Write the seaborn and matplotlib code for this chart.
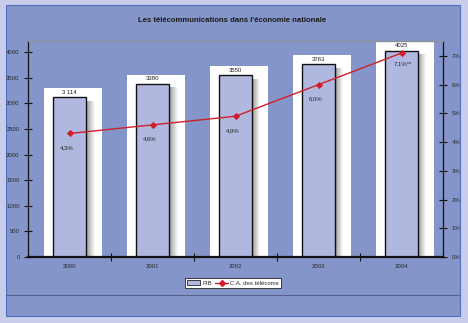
import numpy as np
import pandas as pd
import matplotlib
matplotlib.use("Agg")
import matplotlib.pyplot as plt
from matplotlib.patches import Rectangle
from matplotlib.lines import Line2D
import seaborn as sns

# Data
years = ["2000", "2001", "2002", "2003", "2004"]
pib = [3114, 3380, 3550, 3763, 4025]
pib_labels = ["3 114", "3380", "3550", "3763", "4025"]
ca_telecom = [4.3, 4.6, 4.9, 6.0, 7.1]
ca_labels = ["4,3%", "4,6%", "4,9%", "6,0%", "7,1%**"]
left_ticks = [0, 500, 1000, 1500, 2000, 2500, 3000, 3500, 4000]
right_ticks = [0, 1, 2, 3, 4, 5, 6, 7]
title = "Les télécommunications dans l'économie nationale"

sns.set_theme(style="white")
plt.rcParams["font.family"] = ["Liberation Sans", "DejaVu Sans"]

W, H = 468, 323
fig = plt.figure(figsize=(W / 100, H / 100), dpi=100)
fig.patch.set_facecolor("#c9cde9")

panel_col = "#8495c9"
# outer panel behind everything
fig.patches.append(Rectangle((6 / W, 1 - 316 / H), 454 / W, 311 / H,
                             transform=fig.transFigure, facecolor=panel_col,
                             edgecolor="#4f6fc4", linewidth=0.8, zorder=-10))
fig.add_artist(Line2D([6 / W, 460 / W], [1 - 295 / H, 1 - 295 / H],
                      transform=fig.transFigure, color="#556090", linewidth=0.8, zorder=-5))

ax = fig.add_axes([28 / W, 1 - 257 / H, 415 / W, 216 / H])
ax.set_facecolor("none")

df = pd.DataFrame({"annee": years, "pib": pib})

# white backing boxes with a soft shadow to the right of each bar
px_x = 1 / 83.0
px_y = 4000 / 205.0
for i, v in enumerate(pib):
    left = i - 0.2 - 9 * px_x
    right = i + 0.2 + 16 * px_x
    top = v + 9 * px_y
    ax.add_patch(Rectangle((left, 0), right - left, top, facecolor="white",
                           edgecolor="none", zorder=0.5))
    grad = np.linspace(0.6, 1.0, 50).reshape(1, -1)
    ax.imshow(np.dstack([grad, grad, grad]), extent=(i + 0.2, i + 0.2 + 8 * px_x, 0, v - 4 * px_y),
              aspect="auto", zorder=0.6, interpolation="bilinear")

sns.barplot(data=df, x="annee", y="pib", width=0.4, color="#b1b8df",
            edgecolor="#111111", linewidth=1.0, saturation=1, ax=ax, zorder=2)

ax.set_xlim(-0.5, 4.5)
ax.set_ylim(0, 4215)
ax.set_xlabel("")
ax.set_ylabel("")
ax.set_yticks(left_ticks)
ax.set_yticklabels([str(t) for t in left_ticks], fontsize=4.3, color="#2a2a2a")
ax.set_xticks(range(len(years)))
ax.set_xticklabels(years, fontsize=4.3, color="#2a2a2a")
ax.set_xticks(np.arange(0.5, 4.5, 1), minor=True)
ax.tick_params(axis="x", which="major", length=0, pad=5)
ax.tick_params(axis="x", which="minor", length=6, direction="inout", width=0.8, color="#111111", bottom=True)
ax.tick_params(axis="y", which="major", length=6, direction="inout", width=0.8, color="#111111", pad=3, left=True)

for s in ["left", "right"]:
    ax.spines[s].set_color("#111111")
    ax.spines[s].set_linewidth(0.9)
ax.spines["bottom"].set_color("#111111")
ax.spines["bottom"].set_linewidth(1.6)
ax.spines["top"].set_color("#8a8f99")
ax.spines["top"].set_linewidth(1.0)

for i, (v, lab) in enumerate(zip(pib, pib_labels)):
    ax.text(i, v + 45, lab, ha="center", va="bottom", fontsize=4.3, color="#222222")

ax2 = ax.twinx()
ax2.set_ylim(0, 7.52)
sns.lineplot(x=list(range(len(years))), y=ca_telecom, color="#d01f2a", linewidth=1.0,
             marker="D", markersize=3, markeredgecolor="#d01f2a", ax=ax2, zorder=5)
ax2.set_yticks(right_ticks)
ax2.set_yticklabels([f"{t}%" for t in right_ticks], fontsize=4.3, color="#2a2a2a")
ax2.tick_params(axis="y", length=6, direction="inout", width=0.8, color="#111111", pad=3, right=True)
for s in ax2.spines.values():
    s.set_visible(False)

for i, (v, lab) in enumerate(zip(ca_telecom, ca_labels)):
    dx = 0.02 if i == 4 else -0.03
    dy = 0.36 if i == 4 else 0.5
    ax2.text(i + dx, v - dy, lab, ha="center", va="center", fontsize=4.3, color="#222222")

fig.text(232 / W, 1 - 20 / H, title, ha="center", va="center", fontsize=5.6,
         fontweight="bold", color="#1a1a1a")

handles = [Rectangle((0, 0), 1, 1, facecolor="#b1b8df", edgecolor="#222222", linewidth=0.6),
           Line2D([0], [0], color="#d01f2a", linewidth=1.0, marker="D", markersize=3)]
leg = fig.legend(handles, ["PIB", "C.A. des télécoms"], loc="center",
                 bbox_to_anchor=(233 / W, 1 - 283 / H), ncol=2, fontsize=4.3,
                 frameon=True, fancybox=False, edgecolor="#222222", framealpha=1,
                 handlelength=2.2, handleheight=0.8, columnspacing=0.6,
                 handletextpad=0.3, borderpad=0.35)
leg.get_frame().set_linewidth(0.6)

fig.savefig("out.png", dpi=100, facecolor=fig.get_facecolor())
